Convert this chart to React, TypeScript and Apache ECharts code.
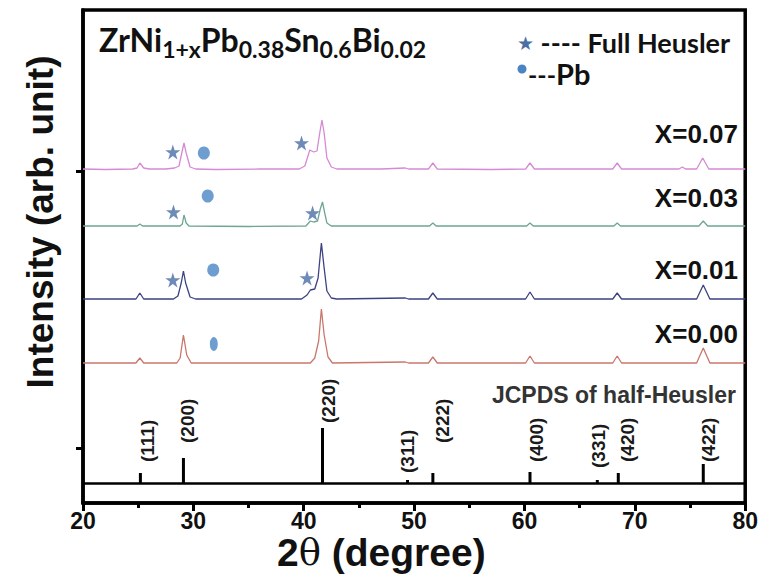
import React, { useEffect, useRef } from 'react';
import * as echarts from 'echarts';

// ---- data (x: 2θ in degrees, y: intensity in arbitrary offset units) ----
const xMin = 20;
const xMax = 80;
const xStep = 10;
const yMin = 0;
const yMax = 493;
const yTickValues = [55, 332];

const sampleNames = ['X=0.07', 'X=0.03', 'X=0.01', 'X=0.00'];
const sampleColors = ['#d58ad4', '#6fa596', '#3d4282', '#c9776d'];

const curve007: number[][] = [
  [20, 334], [22, 333.5], [24.5, 334], [24.9, 335], [25.15, 340], [25.5, 335], [26, 334], [27.5, 334],
  [28.3, 335], [28.7, 337], [28.95, 350], [29.15, 360], [29.35, 350], [29.7, 336], [30.2, 334],
  [32, 333.5], [36, 334], [39.6, 334], [40.1, 337], [40.55, 353], [40.9, 351], [41.2, 352],
  [41.45, 370], [41.65, 383], [41.85, 370], [42.1, 345], [42.5, 336], [43, 334], [47, 334],
  [49.2, 335], [49.5, 334], [51.3, 334], [51.7, 340], [52.1, 334], [57, 333.5], [60.1, 334],
  [60.5, 340], [60.9, 334], [66, 334], [68, 334], [68.4, 340], [68.8, 334], [74, 334],
  [74.3, 336], [74.6, 334], [75.6, 334], [76.15, 345], [76.7, 334], [80, 334],
];
const curve003: number[][] = [
  [20, 277], [24.9, 277], [25.15, 279], [25.4, 277], [28.8, 277], [29.0, 279], [29.15, 288],
  [29.35, 280], [29.6, 277], [35, 276.5], [40.2, 277], [40.6, 282], [40.9, 281], [41.25, 282],
  [41.5, 294], [41.7, 301], [41.9, 290], [42.1, 280], [42.5, 277], [51.4, 277], [51.7, 280],
  [52, 277], [60.2, 277], [60.5, 280], [60.8, 277], [68.1, 277], [68.4, 280], [68.7, 277],
  [75.8, 277], [76.2, 282], [76.6, 277], [80, 277],
];
const curve001: number[][] = [
  [20, 204], [24.8, 204], [25.15, 210], [25.5, 204], [28.2, 204], [28.6, 207], [28.9, 220],
  [29.1, 232], [29.3, 220], [29.7, 206], [30.2, 204], [39.8, 204], [40.3, 208], [40.6, 213],
  [41.0, 214], [41.3, 225], [41.6, 260], [41.85, 235], [42.1, 212], [42.5, 205], [43, 204],
  [49.2, 205], [49.5, 204], [51.3, 204], [51.7, 210], [52.1, 204], [60.1, 204], [60.5, 211],
  [60.9, 204], [68, 204], [68.4, 210], [68.8, 204], [75.6, 204], [76.2, 218], [76.8, 204], [80, 204],
];
const curve000: number[][] = [
  [20, 140], [24.8, 140], [25.15, 145], [25.5, 140], [28.5, 140], [28.8, 145], [29.1, 168],
  [29.4, 148], [29.8, 140], [40.6, 140], [41.0, 145], [41.35, 162], [41.6, 194], [41.85, 168],
  [42.2, 146], [42.6, 140], [49.2, 141], [49.5, 140], [51.3, 140], [51.7, 146], [52.1, 140],
  [60.1, 140], [60.5, 147], [60.9, 140], [68, 140], [68.4, 147], [68.8, 140], [75.6, 140],
  [76.2, 155], [76.8, 140], [80, 140],
];
const curves = [curve007, curve003, curve001, curve000];

// JCPDS half-Heusler reference sticks
const jcpdsBase = 20;
const hklLabels = ['(111)', '(200)', '(220)', '(311)', '(222)', '(400)', '(331)', '(420)', '(422)'];
const hklPos = [25.2, 29.1, 41.7, 49.4, 51.7, 60.5, 66.6, 68.5, 76.2];
const hklTop = [30, 45, 75, 23, 30, 31, 23, 30, 39];
const hklLabelX = [25.8, 29.5, 42.2, 49.4, 52.6, 61.1, 66.7, 69.3, 76.7];
const hklLabelY = [41, 60, 80, 30, 60, 41, 35, 41, 41];

// phase markers
const fullHeuslerPoints: number[][] = [
  [28.14, 351], [39.8, 360], [28.2, 291], [40.8, 290], [28.14, 223], [40.3, 225],
];
const pbPoints: number[][] = [[30.95, 350], [31.3, 307], [31.8, 233], [31.85, 159]];

const ARIAL = '"Liberation Sans", Arial, Helvetica, sans-serif';
const CALIBRI = 'Lato, "Open Sans", sans-serif';
const STAR =
  'path://M12,0 L14.9,8.6 L24,8.6 L16.6,14 L19.4,22.8 L12,17.4 L4.6,22.8 L7.4,14 L0,8.6 L9.1,8.6 Z';

export default function App() {
  const ref = useRef<HTMLDivElement>(null);

  useEffect(() => {
    if (!ref.current) return;
    const chart = echarts.init(ref.current, undefined, { renderer: 'svg' });

    const lineSeries = curves.map((c, i) => ({
      type: 'line',
      name: sampleNames[i],
      data: c,
      showSymbol: false,
      symbol: 'none',
      lineStyle: { color: sampleColors[i], width: 1.3 },
      z: 3,
      silent: true,
    }));

    const option: any = {
      animation: false,
      backgroundColor: '#fff',
      grid: {
        left: 83,
        right: 14,
        top: 10,
        bottom: 85,
        show: true,
        borderColor: '#000',
        borderWidth: 3.5,
        backgroundColor: 'transparent',
      },
      xAxis: {
        type: 'value',
        min: xMin,
        max: xMax,
        interval: xStep,
        axisLine: { show: true, lineStyle: { color: '#000', width: 3.5 } },
        axisTick: { show: true, inside: false, length: 8, lineStyle: { color: '#000', width: 3 } },
        minorTick: { show: true, splitNumber: 2, length: 5, lineStyle: { color: '#000', width: 3 } },
        splitLine: { show: false },
        axisLabel: {
          color: '#111',
          fontSize: 23,
          fontWeight: 'bold',
          fontFamily: ARIAL,
          margin: 6,
        },
      },
      yAxis: {
        type: 'value',
        min: yMin,
        max: yMax,
        axisLine: { show: true, lineStyle: { color: '#000', width: 3.5 } },
        axisTick: {
          show: true,
          inside: false,
          length: 7,
          customValues: yTickValues,
          lineStyle: { color: '#000', width: 3 },
        },
        axisLabel: { show: false },
        splitLine: { show: false },
      },
      series: [
        ...lineSeries,
        {
          type: 'line',
          data: [],
          markLine: {
            silent: true,
            symbol: 'none',
            label: { show: false },
            lineStyle: { color: '#000', width: 2.5, type: 'solid' },
            data: [{ yAxis: jcpdsBase }],
          },
        },
        {
          type: 'custom',
          z: 5,
          data: hklPos.map((x, i) => [x, hklTop[i]]),
          renderItem: (params: any, api: any) => {
            const p0 = api.coord([api.value(0), jcpdsBase]);
            const p1 = api.coord([api.value(0), api.value(1)]);
            return {
              type: 'line',
              shape: { x1: p0[0], y1: p0[1], x2: p1[0], y2: p1[1] },
              style: { stroke: '#000', lineWidth: 3 },
            };
          },
        },
        {
          type: 'custom',
          z: 5,
          data: hklLabelX.map((x, i) => [x, hklLabelY[i]]),
          renderItem: (params: any, api: any) => {
            const p = api.coord([api.value(0), api.value(1)]);
            return {
              type: 'text',
              x: p[0],
              y: p[1],
              rotation: Math.PI / 2,
              style: {
                text: hklLabels[params.dataIndex],
                font: `bold 19px ${ARIAL}`,
                fill: '#1a1a1a',
                align: 'left',
                verticalAlign: 'middle',
                textAlign: 'left',
                textVerticalAlign: 'middle',
              },
            };
          },
        },
        {
          type: 'scatter',
          data: fullHeuslerPoints,
          symbol: STAR,
          symbolSize: 15,
          itemStyle: { color: '#4a6ea6' },
          z: 6,
          silent: true,
        },
        {
          type: 'scatter',
          data: pbPoints,
          symbol: 'circle',
          symbolSize: (v: number[], p: any) => (p.dataIndex === 3 ? [8, 14] : [12, 13]),
          itemStyle: { color: '#4a84c4' },
          z: 6,
          silent: true,
        },
      ],
      graphic: [
        {
          type: 'text',
          left: 99,
          top: 23,
          style: {
            text: '{m|ZrNi}{s|1+x}{m|Pb}{s|0.38}{m|Sn}{s|0.6}{m|Bi}{s|0.02}',
            rich: {
              m: { fontSize: 32, fontWeight: 'bold', fontFamily: CALIBRI, fill: '#111', lineHeight: 33, verticalAlign: 'top' },
              s: { fontSize: 23, fontWeight: 'bold', fontFamily: CALIBRI, fill: '#111', lineHeight: 23, padding: [14, 0, 0, 0], verticalAlign: 'top' },
            },
          },
        },
        {
          type: 'text',
          left: 517,
          top: 29,
          style: {
            text: '{star|★}{t| ---- Full Heusler}',
            rich: {
              star: { fontSize: 19, fill: '#4a6ea6', fontFamily: 'DejaVu Sans', lineHeight: 23 },
              t: { fontSize: 27, fontWeight: 'bold', fontFamily: CALIBRI, fill: '#111', lineHeight: 23 },
            },
          },
        },
        {
          type: 'circle',
          shape: { cx: 522, cy: 69, r: 4.5 },
          style: { fill: '#4a84c4' },
        },
        {
          type: 'text',
          left: 528,
          top: 59,
          style: {
            text: '{d|---}{p|Pb}',
            rich: {
              d: { fontSize: 25, fontWeight: 'bold', fontFamily: CALIBRI, fill: '#111', lineHeight: 22 },
              p: { fontSize: 29, fontWeight: 'bold', fontFamily: CALIBRI, fill: '#111', lineHeight: 22 },
            },
          },
        },
        ...sampleNames.map((n, i) => ({
          type: 'text',
          right: 23,
          top: [121, 185, 257, 321][i],
          style: { text: n, font: `bold 26px ${ARIAL}`, fill: '#111' },
        })),
        {
          type: 'text',
          right: 25,
          top: 383,
          style: { text: 'JCPDS of half-Heusler', font: `bold 23px ${ARIAL}`, fill: '#333' },
        },
        {
          type: 'text',
          left: 277,
          top: 533,
          style: {
            text: '{b|2}{t|θ}{b| (degree)}',
            rich: {
              b: { fontSize: 39, fontWeight: 'bold', fontFamily: ARIAL, fill: '#111' },
              t: { fontSize: 37, fontFamily: '"DejaVu Serif", "Liberation Serif", serif', fill: '#111' },
            },
          },
        },
        {
          type: 'text',
          x: 40,
          y: 222,
          rotation: Math.PI / 2,
          style: {
            text: 'Intensity (arb. unit)',
            font: `bold 37px ${ARIAL}`,
            fill: '#111',
            align: 'center',
            verticalAlign: 'middle',
            textAlign: 'center',
            textVerticalAlign: 'middle',
          },
        },
      ],
    };

    chart.setOption(option);
    return () => chart.dispose();
  }, []);

  return (
    <div
      ref={ref}
      style={{ position: 'absolute', left: 0, top: 0, width: 761, height: 588 }}
    />
  );
}
